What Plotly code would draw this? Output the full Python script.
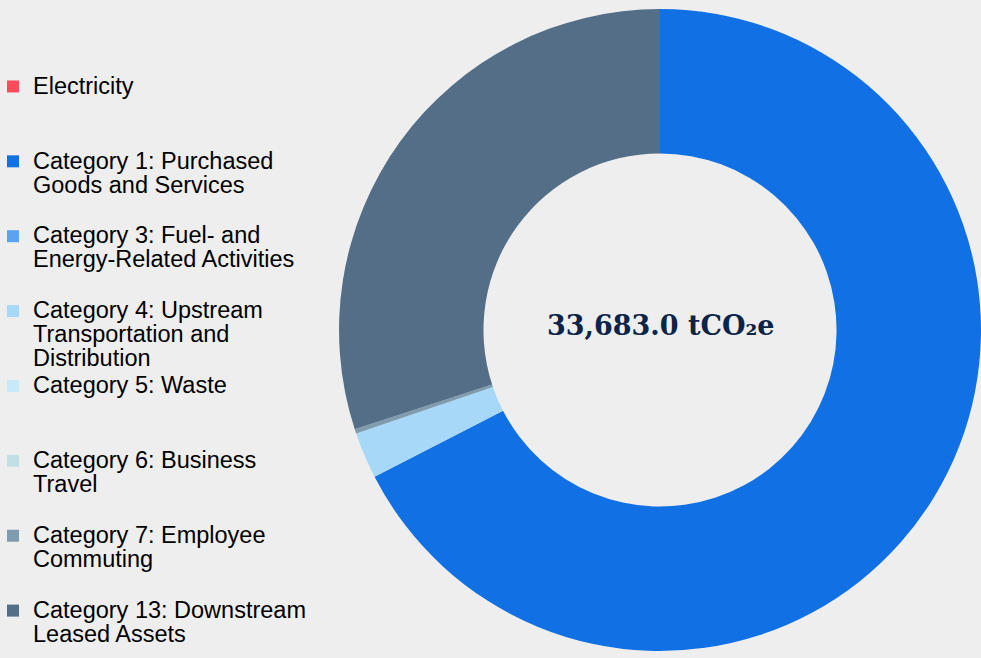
import plotly.graph_objects as go

# ---- data ----
categories = [
    "Electricity",
    "Category 1: Purchased Goods and Services",
    "Category 3: Fuel- and Energy-Related Activities",
    "Category 4: Upstream Transportation and Distribution",
    "Category 5: Waste",
    "Category 6: Business Travel",
    "Category 7: Employee Commuting",
    "Category 13: Downstream Leased Assets",
]
legend_lines = [
    ["Electricity"],
    ["Category 1: Purchased", "Goods and Services"],
    ["Category 3: Fuel- and", "Energy-Related Activities"],
    ["Category 4: Upstream", "Transportation and", "Distribution"],
    ["Category 5: Waste"],
    ["Category 6: Business", "Travel"],
    ["Category 7: Employee", "Commuting"],
    ["Category 13: Downstream", "Leased Assets"],
]
values = [0, 22717, 0, 786, 0, 0, 75, 10105]
colors = ["#FF4B5C", "#1170E4", "#5BA3EE", "#A8D8F8", "#C8EAF8", "#C2E0E3", "#7F9BAE", "#546E87"]
unit = "tCO₂e"

# ---- styling ----
BG = "#EEEEEE"
LEGEND_BASE = 18.43
LEGEND_TEXT = 23.5

labels = []
for i, lines in enumerate(legend_lines):
    n = 3 if i < len(legend_lines) - 1 else 2
    padded = lines + [""] * (n - len(lines))
    labels.append("<br>".join(f'<span style="font-size:{LEGEND_TEXT}px">{l}</span>' if l else "" for l in padded))

total = sum(values)

fig = go.Figure(
    go.Pie(
        labels=labels,
        values=values,
        marker=dict(colors=colors, line=dict(width=0)),
        hole=0.55,
        sort=False,
        direction="clockwise",
        rotation=0,
        textinfo="none",
        domain=dict(x=[0.3456, 1.0], y=[0, 1]),
        hovertext=categories,
        hoverinfo="text+value+percent",
    )
)

fig.add_annotation(
    text=f"{total:,.1f} {unit}",
    x=0.6728, y=0.507, xref="paper", yref="paper",
    showarrow=False, xanchor="center", yanchor="middle",
    font=dict(family="DejaVu Serif", size=27, color="#0B2447", weight="bold"),
)

fig.update_layout(
    width=981, height=658,
    paper_bgcolor=BG, plot_bgcolor=BG,
    margin=dict(l=0, r=0, t=7, b=5, autoexpand=False),
    showlegend=True,
    legend=dict(
        x=-7 / 981, xanchor="left",
        y=0.9056, yanchor="top",
        valign="top",
        bgcolor="rgba(0,0,0,0)",
        font=dict(family="Liberation Sans, Arial, sans-serif", size=LEGEND_BASE, color="#000000"),
        itemclick=False, itemdoubleclick=False,
    ),
)

fig.write_html(
    "out.html",
    config={"displayModeBar": False},
    post_script="document.body.style.margin='0';document.body.style.overflow='hidden';document.body.style.background='#EEEEEE';",
)
